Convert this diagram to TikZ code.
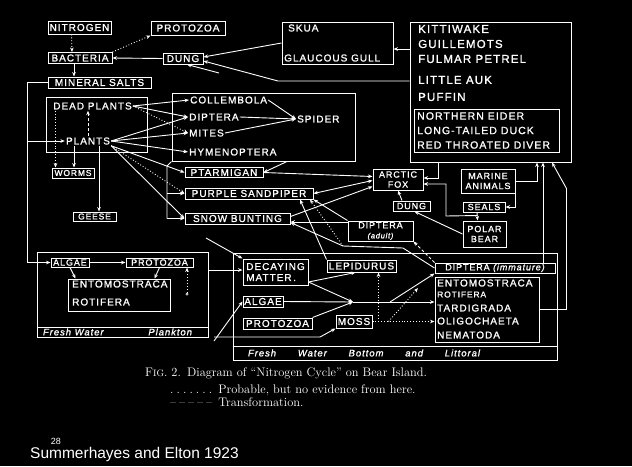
\documentclass[tikz,border=0pt]{standalone}
\usepackage{fontspec}
\usetikzlibrary{arrows.meta,calc}
\newfontfamily\hand[LetterSpace=10,FakeBold=1.2]{Liberation Sans}
\newfontfamily\slidefont{Liberation Sans}
\newcommand\lblfont{\hand\fontsize{10}{11}\selectfont}
\newcommand\lblmid{\hand\fontsize{9}{10}\selectfont}
\newcommand\lblsmall{\hand\fontsize{9}{10}\selectfont}
\newcommand\birdfont{\hand\fontsize{11.5}{12}\selectfont}
\newcommand\duckfont{\hand\fontsize{10.5}{12}\selectfont}
\newcommand\scriptlbl{\hand\itshape\fontsize{9.5}{10}\selectfont}

\begin{document}
\begin{tikzpicture}[x=1pt,y=-1pt,
  box/.style={draw=white, line width=1pt, inner sep=0pt, text=white, font=\lblfont},
  lbl/.style={text=white, inner sep=1pt, font=\lblfont},
  bird/.style={text=white, inner sep=0pt, font=\birdfont, anchor=west},
  duck/.style={text=white, inner sep=0pt, font=\duckfont, anchor=west},
  arr/.style={draw=white, line width=0.9pt, -{Stealth[length=4.5pt,width=3.6pt]}},
  link/.style={draw=white, line width=0.9pt},
  probable/.style={dotted},
  transf/.style={dash pattern=on 3pt off 2pt}]
\fill[black] (0,0) rectangle (632,466);
\useasboundingbox (0,0) rectangle (632,466);

% ---------- nitrogen, decomposers ----------
\node[box, minimum width=63pt, minimum height=13pt] (nitrogen) at (79.5,27.5) {NITROGEN};
\node[box, minimum width=74pt, minimum height=14pt] (protozoaT) at (188,28) {PROTOZOA};
\node[box, minimum width=64pt, minimum height=11pt] (bacteria) at (80,58) {BACTERIA};
\node[box, minimum width=40pt, minimum height=11pt] (dungT) at (183,58.5) {DUNG};
\node[box, minimum width=103pt, minimum height=11pt] (mineral) at (99.5,82.5) {MINERAL SALTS};

% ---------- skua and seabirds ----------
\node[box, minimum width=111pt, minimum height=42pt] (skua) at (337.5,43) {};
\node[lbl, anchor=west] (skuaT) at (287,28) {SKUA};
\node[lbl, anchor=west] (gull) at (283,58) {GLAUCOUS GULL};

\node[box, minimum width=161pt, minimum height=140pt] (seabird) at (490.5,92) {};
\node[bird] (kitti) at (418,29) {KITTIWAKE};
\node[bird] (guill) at (418,44) {GUILLEMOTS};
\node[bird] (fulmar) at (418,59) {FULMAR PETREL};
\node[bird] (auk) at (418,80) {LITTLE AUK};
\node[bird] (puffin) at (418,97) {PUFFIN};
\node[box, minimum width=145pt, minimum height=43pt] (eider) at (486.5,130.5) {};
\node[duck] (neider) at (417,116) {NORTHERN EIDER};
\node[duck] (ltduck) at (417,130.5) {LONG-TAILED DUCK};
\node[duck] (rtdiver) at (417,145) {RED THROATED DIVER};

% ---------- land plants ----------
\node[box, minimum width=101pt, minimum height=55pt] (deadbox) at (96.5,124.5) {};
\node[lbl] (deadplants) at (92.5,106) {DEAD PLANTS};
\node[lbl] (plants) at (88,141) {PLANTS};
\node[box, minimum width=42pt, minimum height=10pt, font=\hand\fontsize{8.5}{10}\selectfont] (worms) at (73,173) {WORMS};
\node[box, minimum width=43pt, minimum height=9pt, font=\hand\fontsize{8.5}{10}\selectfont] (geese) at (94.5,216.5) {GEESE};

% ---------- land invertebrates ----------
\node[box, minimum width=183pt, minimum height=68pt] (insects) at (263.5,127) {};
\node[lbl, anchor=west] (collembola) at (189,100) {COLLEMBOLA};
\node[lbl, anchor=west] (diptera) at (188,117) {DIPTERA};
\node[lbl, anchor=west] (spider) at (296,119) {SPIDER};
\node[lbl, anchor=west] (mites) at (188,133) {MITES};
\node[lbl, anchor=west] (hymen) at (188,152) {HYMENOPTERA};

% ---------- land birds ----------
\node[box, minimum width=78pt, minimum height=10pt] (ptarmigan) at (224,172.5) {PTARMIGAN};
\node[box, minimum width=128pt, minimum height=11pt] (purple) at (249,193.5) {PURPLE SANDPIPER};
\node[box, minimum width=105pt, minimum height=11pt] (snow) at (237.5,218.5) {SNOW BUNTING};

% ---------- fox, bear, seals ----------
\node[box, minimum width=50pt, minimum height=21pt, align=center, font=\lblsmall] (fox) at (398,179.5) {ARCTIC\\FOX};
\node[box, minimum width=37pt, minimum height=10pt, font=\lblsmall] (dungM) at (411.5,206) {DUNG};
\node[box, minimum width=54pt, minimum height=24pt, align=center, font=\lblsmall] (marine) at (488,181) {MARINE\\ANIMALS};
\node[box, minimum width=42pt, minimum height=10pt, font=\lblsmall] (seals) at (484,207) {SEALS};
\node[box, minimum width=43pt, minimum height=26pt, align=center, font=\lblsmall] (polar) at (484.5,234) {POLAR\\BEAR};
\node[box, minimum width=65pt, minimum height=20pt, align=center, font=\lblsmall] (dipadult) at (380.5,231) {DIPTERA\\{\itshape\fontsize{7.5}{8}\selectfont(adult)}};

% ---------- fresh water plankton ----------
\node[box, minimum width=171pt, minimum height=85pt] (plankton) at (122.5,294.5) {};
\draw[link] ([yshift=10pt]plankton.south west) -- ([yshift=10pt]plankton.south east);
\node[text=white, inner sep=0pt, font=\scriptlbl] (plabel) at (117.5,332) {\makebox[149pt]{Fresh Water\hfill Plankton}};
\node[box, minimum width=38pt, minimum height=9pt, font=\lblmid] (algaeP) at (70,262.5) {ALGAE};
\node[box, minimum width=67pt, minimum height=9pt, font=\lblmid] (protoP) at (159.5,262.5) {PROTOZOA};
\node[box, minimum width=102pt, minimum height=32pt] (entoP) at (119,295) {};
\node[lbl, anchor=west] (entoPa) at (71,284) {ENTOMOSTRACA};
\node[lbl, anchor=west] (rotP) at (71,302) {ROTIFERA};

% ---------- fresh water bottom and littoral ----------
\node[box, minimum width=324pt, minimum height=107pt] (bottom) at (395,306.5) {};
\draw[link] ([yshift=14pt]bottom.south west) -- ([yshift=14pt]bottom.south east);
\node[text=white, inner sep=0pt, font=\scriptlbl] (blabel) at (364,353) {\makebox[232pt]{Fresh\hfill Water\hfill Bottom\hfill and\hfill Littoral}};
\node[box, minimum width=65pt, minimum height=26pt, align=left] (decay) at (275.5,272) {DECAYING\\MATTER\,.};
\node[box, minimum width=69pt, minimum height=12pt] (lepid) at (361.5,266) {LEPIDURUS};
\node[box, minimum width=40pt, minimum height=11pt] (algaeB) at (263,301.5) {ALGAE};
\node[box, minimum width=69pt, minimum height=11pt] (protoB) at (277.5,323.5) {PROTOZOA};
\node[box, minimum width=36pt, minimum height=13pt] (moss) at (354,321.5) {MOSS};
\node[box, minimum width=120pt, minimum height=10pt, font=\lblsmall] (dipimm) at (495,268) {DIPTERA {\itshape(immature)}};
\node[box, minimum width=104pt, minimum height=65pt] (entoB) at (487,309.5) {};
\node[lbl, anchor=west] (entoBa) at (436,283) {ENTOMOSTRACA};
\node[lbl, anchor=west, font=\hand\fontsize{8.5}{10}\selectfont] (rotB) at (436,294.5) {ROTIFERA};
\node[lbl, anchor=west] (tardi) at (436,308) {TARDIGRADA};
\node[lbl, anchor=west] (oligo) at (436,321) {OLIGOCHAETA};
\node[lbl, anchor=west] (nema) at (436,335) {NEMATODA};

% ---------- free ends and bends ----------
\coordinate (msL) at (27,82.5);
\coordinate (dropin) at (219,73);
\coordinate (gullbend) at (278,81);
\coordinate (i1) at (167,166);
\coordinate (bearbend) at (446,216);
\coordinate (detritus) at (206,238);
\coordinate (lowin) at (214,341);
\coordinate (lowin2) at (214,337);
\coordinate (mossbend) at (320,337);
\coordinate (jn) at (353,302);
\coordinate (jn2) at (390,302);
\coordinate (larvbend) at (403,248);
\coordinate (j1) at (343,246);
\coordinate (mtip) at (418,288);

% ---------- nitrogen and dung ----------
\draw[arr, probable] ([xshift=-8pt]nitrogen.south) -- ([xshift=-8pt]bacteria.north);
\draw[arr] ([xshift=-6pt]bacteria.south) coordinate (b1) -- (b1 |- mineral.north);
\draw[arr, probable] (bacteria.north east) -- (protozoaT.south west);
\draw[arr] (dungT.west) -- (bacteria.east);
\draw[arr] (skua.west) -- ([yshift=1.5pt]dungT.east);
\draw[arr] ([yshift=43pt]seabird.west) coordinate (s1) -- (s1 -| skua.east);
\draw[arr] ([yshift=11pt]seabird.west) -- (gullbend) -- ([yshift=-2.5pt]dungT.east);
\draw[arr] (dropin) -- ([xshift=4pt]dungT.south);

% ---------- mineral salts to plants and algae ----------
\draw[link] (mineral.west) -- (msL) -- (msL |- algaeP.west);
\draw[arr] (msL |- plants.west) -- (plants.west);
\draw[arr] (msL |- algaeP.west) -- (algaeP.west);

% ---------- land plants ----------
\draw[arr, transf] (plants.north) -- (plants.north |- deadplants.south);
\draw[arr, probable] ([xshift=-37pt]deadplants.south) coordinate (d1) -- (d1 |- worms.north);
\draw[arr] ([xshift=-14pt]plants.south) coordinate (p1) -- (p1 |- worms.north);
\draw[arr] ([xshift=11pt]plants.south) coordinate (p2) -- (p2 |- geese.north);
\draw[arr] (deadplants.east) -- (collembola.west);
\draw[arr] (deadplants.east) -- (diptera.west);
\draw[arr, probable] (deadplants.east) -- (mites.west);
\draw[arr] (plants.east) -- (diptera.west);
\draw[arr] (plants.east) -- (mites.west);
\draw[arr] (plants.east) -- (hymen.west);
\draw[arr] (plants.south east) -- (ptarmigan.west);
\draw[arr, probable] (plants.south east) -- (purple.west);
\draw[arr] (plants.south east) -- (snow.west);

% ---------- invertebrates ----------
\draw[arr] (collembola.east) -- (spider.west);
\draw[arr] (diptera.east) -- (spider.west);
\draw[arr] (mites.east) -- (spider.west);
\draw[arr] ([xshift=23.5pt]insects.south) -- (ptarmigan.east);
\draw[link] (insects.south west) -- (i1) -- (i1 |- snow.west);
\draw[arr] (i1 |- purple.west) -- (purple.west);
\draw[arr] (i1 |- snow.west) -- (snow.west);

% ---------- birds to fox ----------
\draw[arr] (ptarmigan.east) -- ([yshift=3pt]fox.west);
\draw[{Stealth[length=4.5pt,width=3.6pt]}-{Stealth[length=4.5pt,width=3.6pt]}, link] (purple.east) -- ([yshift=-1pt]fox.west);
\draw[arr] ([yshift=2pt]snow.east) -- ([yshift=-7pt]fox.west);
\draw[arr] ([yshift=9pt]dipadult.west) coordinate (a1) -- (a1 -| snow.east);
\draw[arr] (dipadult.north west) -- (purple.south east);
\draw[arr] (lepid.north west) -- ([xshift=51pt]purple.south);
\draw[arr, transf] (dipimm.north west) -- (dipadult.south east);
\draw[arr] (dipimm.west) -- (larvbend) -- (j1) -- ([yshift=-4pt]snow.east);
\draw[arr, probable] (j1) -- ([xshift=61pt]purple.south);

% ---------- fox, bear, seals ----------
\draw[arr] ([xshift=-9.5pt]dungM.north) -- (fox.south);
\draw[arr] (polar.west) -- ([xshift=3pt]dungM.south);
\draw[arr] ([xshift=-7pt]seals.south) -- ([xshift=-7pt]polar.north);
\draw[arr] ([xshift=-7pt,yshift=5pt]polar.north) -- (bearbend) |- ([yshift=-4.5pt]fox.east);
\draw[arr] (marine.south east) |- (seals.east);
\draw[arr] (marine.east) -| ([xshift=46.5pt]seabird.south);
\draw[arr] ([xshift=-52.5pt]seabird.south) |- ([yshift=1.5pt]fox.east);
\draw[arr] ([xshift=48pt]dipimm.north) coordinate (d2) -- (d2 |- seabird.south);
\draw[arr] (entoB.east) -- ++(27pt,0pt) -- ++(0pt,121pt) -- ([xshift=61.5pt]seabird.south);

% ---------- plankton ----------
\draw[arr] (algaeP.east) -- (protoP.west);
\draw[arr] (algaeP.south) -- ([xshift=8pt]entoP.north west);
\draw[arr] (protoP.south) -- ([xshift=-16pt]entoP.north east);
\draw[arr, probable] ([xshift=27.5pt,yshift=-25pt]protoP.south) coordinate (q) -- ([xshift=27.5pt]protoP.south);
\draw[link, line width=0.6pt] ([yshift=-1.6pt]q) circle (1.1pt);
\draw[arr] ([yshift=24.5pt]plankton.east) coordinate (pe) -- (pe -| decay.west);

% ---------- bottom and littoral ----------
\draw[arr] (detritus) -- (decay.north west);
\draw[arr] (lowin) -- (algaeB.west);
\draw[arr] (lowin2) -- (mossbend) -- (moss.south west);
\draw[arr] ([yshift=-10pt]decay.east) -- ([xshift=-6pt]lepid.south);
\draw[arr] ([yshift=-10pt]decay.east) -- (jn);
\draw[arr] (algaeB.east) -- (jn);
\draw[arr] (protoB.north east) -- (jn);
\draw[arr] (jn) -- (jn -| entoB.west);
\draw[arr] (jn2) -- (dipimm.south west);
\draw[arr, probable] (moss.east) -- (moss.east -| entoB.west);
\draw[arr, probable] ([xshift=6pt]moss.east) coordinate (m1) -- (m1 |- lepid.south);
\draw[arr, probable] ([xshift=16pt]moss.east) -- (mtip);

% ---------- caption ----------
\node[anchor=west, text=white, inner sep=0pt, font=\fontsize{12.4}{14}\selectfont] (cap1) at (145,373)
  {F{\fontsize{9.3}{10}\selectfont IG}. 2.\enspace Diagram of ``Nitrogen Cycle'' on Bear Island.};
\node[anchor=west, text=white, inner sep=0pt, font=\fontsize{12.4}{14}\selectfont] (cap2) at (170,390)
  {\makebox[42pt][s]{.\hfil.\hfil.\hfil.\hfil.\hfil.\hfil.}\enspace Probable, but no evidence from here.};
\node[anchor=west, text=white, inner sep=0pt, font=\fontsize{12.4}{14}\selectfont] (cap3) at (170,402)
  {\makebox[42pt][s]{--\hfil--\hfil--\hfil--\hfil--}\enspace Transformation.};

\node[anchor=west, text=white, inner sep=0pt, font=\slidefont\fontsize{15.5}{17}\selectfont] (credit) at (30,454) {Summerhayes and Elton 1923};
\node[text=white, inner sep=0pt, font=\slidefont\fontsize{9}{10}\selectfont] (slideno) at (56,441) {28};
\end{tikzpicture}
\end{document}
